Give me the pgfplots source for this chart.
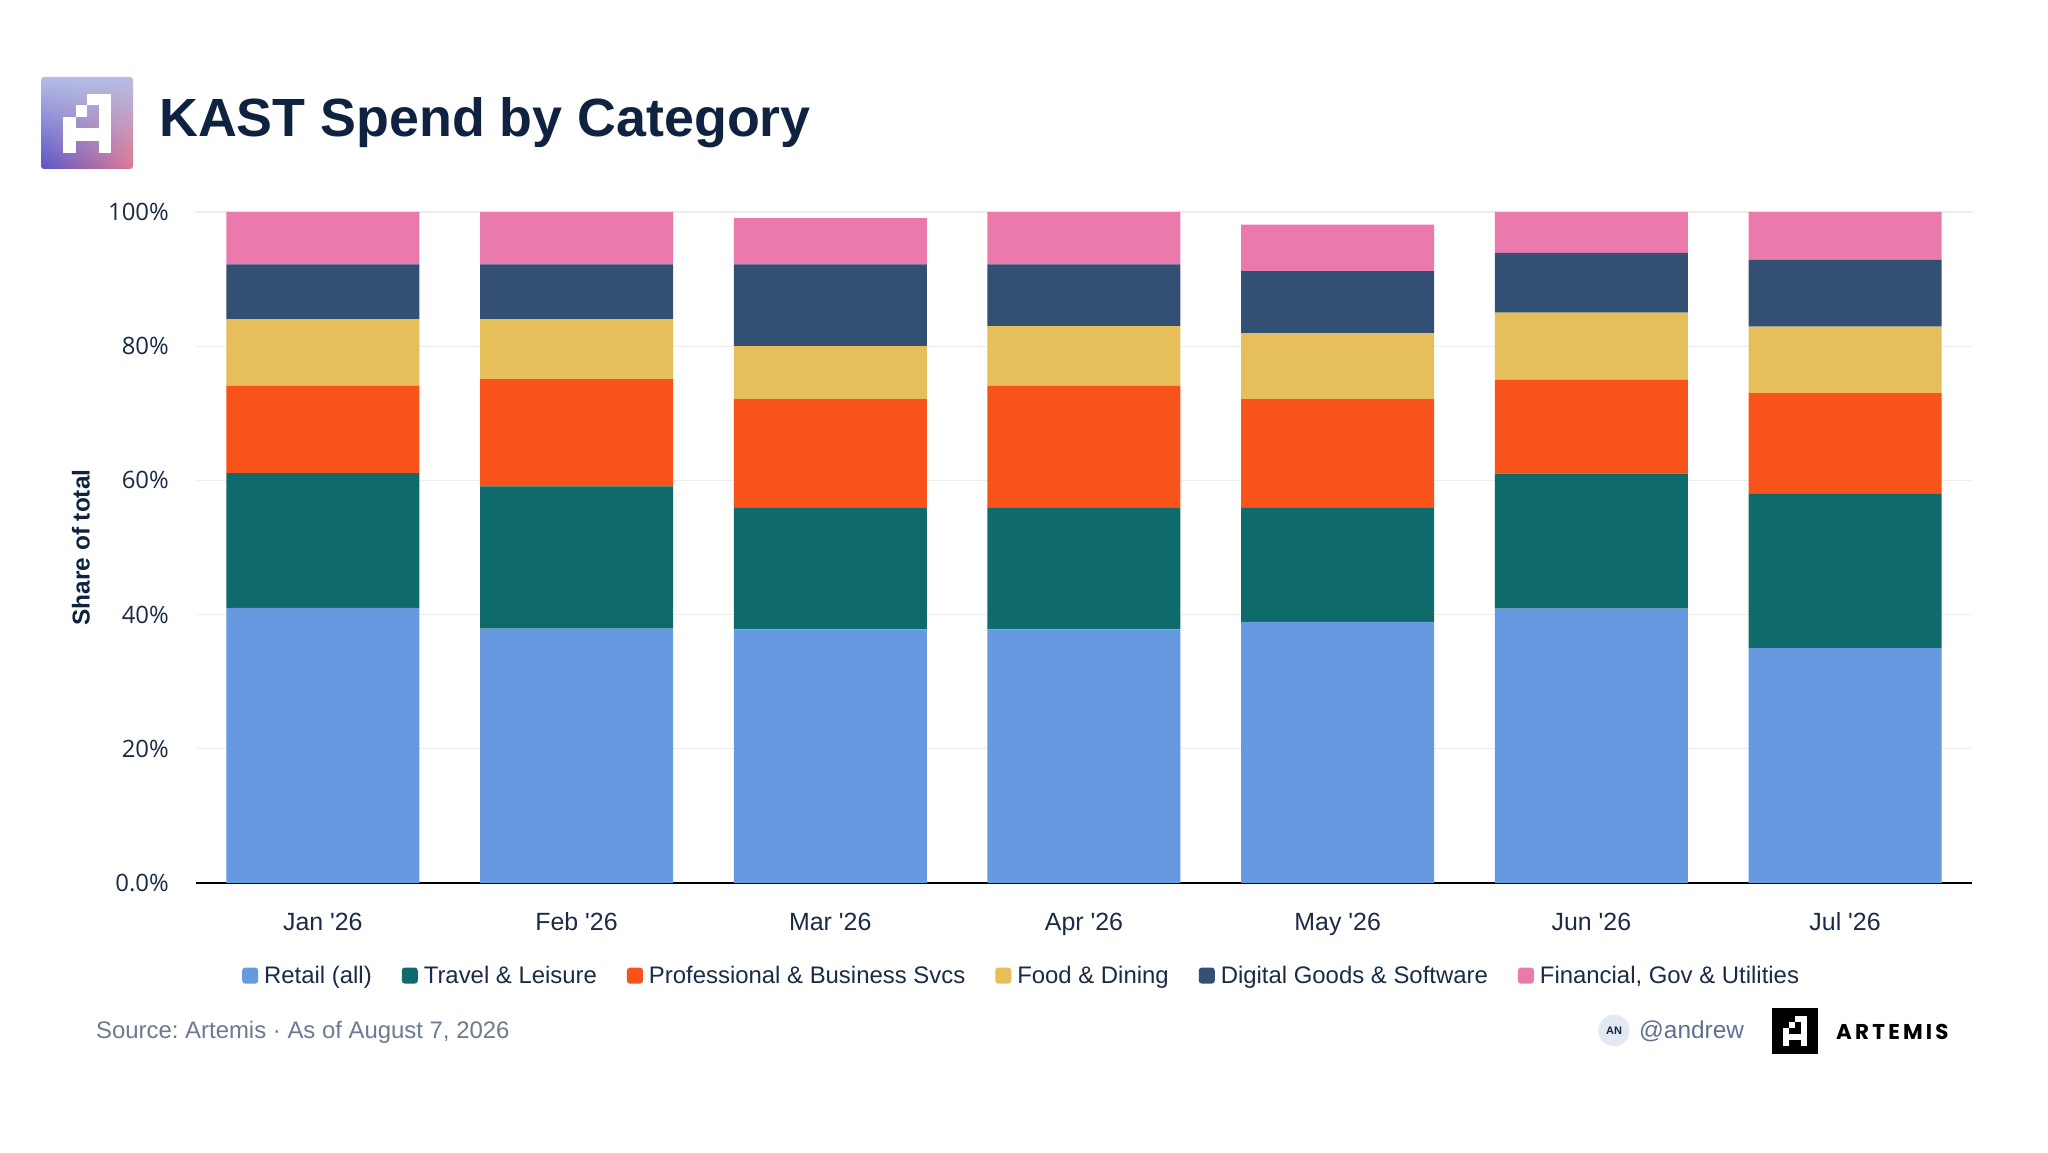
\documentclass[border=0pt]{standalone}
\usepackage{pgfplots}
\pgfplotsset{compat=1.18}
\usetikzlibrary{shadings}
\usepackage{fontspec}
\setmainfont{Liberation Sans}
\newfontfamily\opensans{Open Sans}
\newfontfamily\poppinsW{Poppins}[LetterSpace=15]
\definecolor{cRetail}{HTML}{6699E0}
\definecolor{cTravel}{HTML}{0F6B6B}
\definecolor{cProf}{HTML}{F7531A}
\definecolor{cFood}{HTML}{E6BF5A}
\definecolor{cDigital}{HTML}{334F73}
\definecolor{cFin}{HTML}{EA79AC}
\definecolor{navy}{HTML}{0F2340}
\definecolor{txt}{HTML}{1A2B45}
\definecolor{foot}{HTML}{6B7A8F}
\definecolor{handle}{HTML}{5E7191}
\definecolor{gridc}{HTML}{EDEDED}
\definecolor{circ}{HTML}{E3E9F1}
\definecolor{lgA}{HTML}{B4BEE6}
\definecolor{lgB}{HTML}{5A55C8}
\definecolor{lgC}{HTML}{E07890}
\newcommand{\artglyph}{%
  \fill[white] (0.502,0.18) rectangle (0.758,0.303);
  \fill[white] (0.632,0.18) rectangle (0.758,0.83);
  \fill[white] (0.375,0.303) rectangle (0.502,0.43);
  \fill[white] (0.235,0.43) rectangle (0.375,0.83);
  \fill[white] (0.235,0.556) rectangle (0.758,0.70);
}
\begin{document}
\frenchspacing
\begin{tikzpicture}[x=1bp,y=1bp]
\path[fill=white,use as bounding box] (0,0) rectangle (2048,1152);
% header logo
\begin{scope}
\clip[rounded corners=3bp] (41,1075) rectangle (133,983);
\shade[upper left=lgA, upper right=lgA, lower left=lgB, lower right=lgC] (41,1075) rectangle (133,983);
\end{scope}
\begin{scope}[shift={(41,1075)}, x=92bp, y=-92bp]
\artglyph
\end{scope}
\node[anchor=base west, inner sep=0pt, text=navy, font=\fontsize{54}{60}\selectfont\bfseries] at (159,1015) {KAST Spend by Category};
% chart
\begin{axis}[
  at={(196bp,269bp)}, anchor=south west,
  width=1776bp, height=671bp, scale only axis,
  ybar stacked, bar width=193bp,
  xmin=-0.5, xmax=6.5, ymin=0, ymax=100,
  xtick={0,1,2,3,4,5,6},
  xticklabels={Jan \textquotesingle26,Feb \textquotesingle26,Mar \textquotesingle26,Apr \textquotesingle26,May \textquotesingle26,Jun \textquotesingle26,Jul \textquotesingle26},
  ytick={0,20,40,60,80,100},
  yticklabels={0.0\%,20\%,40\%,60\%,80\%,100\%},
  major tick length=0pt,
  axis x line*=bottom, axis y line*=left,
  y axis line style={draw=none},
  x axis line style={black, line width=2.2bp, -},
  ymajorgrids, grid style={gridc, line width=1.2bp},
  yticklabel style={font=\opensans\fontsize{24}{27}\selectfont, text=txt, anchor=east, inner sep=0pt, xshift=-27bp},
  xticklabel style={font=\fontsize{25}{28}\selectfont, text=txt, anchor=base, inner sep=0pt, yshift=-48bp},
  ylabel={Share of total},
  every axis y label/.style={at={(axis description cs:-0.0648,0.5)}, anchor=center, rotate=90, font=\fontsize{24.5}{27}\selectfont\bfseries, text=navy},
  legend style={at={(0.466,-0.138)}, anchor=center, draw=none, fill=none,
    legend columns=-1, font=\fontsize{24}{27}\selectfont, text=txt,
    nodes={inner xsep=6bp, inner ysep=2bp},
    /tikz/every even column/.append style={column sep=24bp}},
  legend image code/.code={\fill[#1, draw=none, rounded corners=3bp] (0bp,-8bp) rectangle (16bp,8bp);},
  clip=false,
]
\addplot+[fill=cRetail, draw=none] coordinates {(0,41) (1,37.9) (2,37.8) (3,37.8) (4,38.9) (5,40.9) (6,35)};
\addplot+[fill=cTravel, draw=none] coordinates {(0,20.1) (1,21.2) (2,18.1) (3,18.1) (4,17) (5,20.1) (6,23)};
\addplot+[fill=cProf, draw=none] coordinates {(0,13) (1,16) (2,16.2) (3,18.2) (4,16.2) (5,14) (6,15)};
\addplot+[fill=cFood, draw=none] coordinates {(0,9.9) (1,8.9) (2,7.9) (3,8.9) (4,9.8) (5,10) (6,9.9)};
\addplot+[fill=cDigital, draw=none] coordinates {(0,8.2) (1,8.2) (2,12.2) (3,9.2) (4,9.3) (5,8.9) (6,10)};
\addplot+[fill=cFin, draw=none] coordinates {(0,7.8) (1,7.8) (2,6.9) (3,7.8) (4,6.9) (5,6.1) (6,7.1)};
\legend{Retail (all),Travel \& Leisure,Professional \& Business Svcs,Food \& Dining,Digital Goods \& Software,{Financial, Gov \& Utilities}}
\end{axis}
% footer
\node[anchor=base west, inner sep=0pt, text=foot, font=\fontsize{24}{27}\selectfont] at (96,113.5) {Source: Artemis · As of August 7, 2026};
\fill[circ] (1614,121.6) circle (15.7);
\node[text=navy, font=\fontsize{11}{12}\selectfont\bfseries, inner sep=0pt] at (1614,121.6) {AN};
\node[anchor=base west, inner sep=0pt, text=handle, font=\fontsize{24.5}{27}\selectfont] at (1639,113.5) {@andrew};
\fill[black] (1772,144) rectangle (1818,98);
\begin{scope}[shift={(1772,144)}, x=46bp, y=-46bp]
\artglyph
\end{scope}
\node[anchor=base west, inner sep=0pt, text=black, font=\poppinsW\fontsize{21.5}{24}\selectfont\bfseries] at (1836,113) {ARTEMIS};
\end{tikzpicture}
\end{document}
